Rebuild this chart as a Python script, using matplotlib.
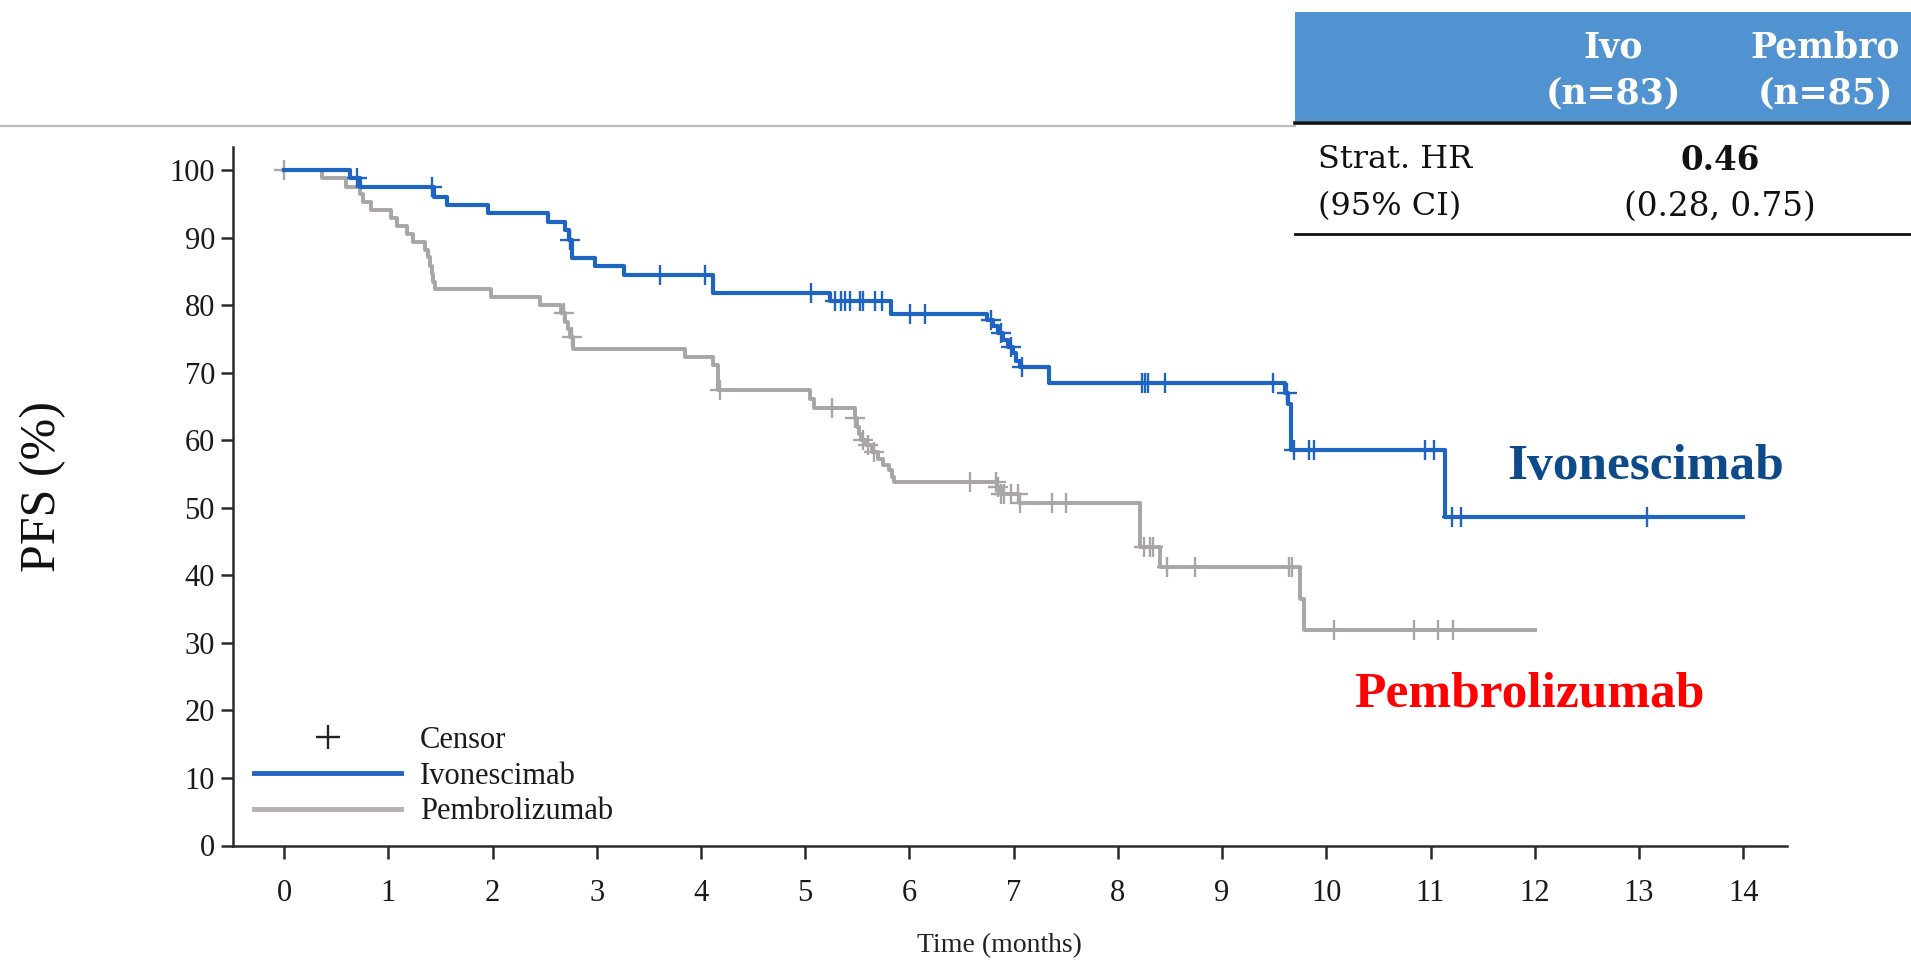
import numpy as np
import matplotlib
matplotlib.use('Agg')
import matplotlib.pyplot as plt
from matplotlib.lines import Line2D
from matplotlib.patches import Rectangle

# ---- data (time in months, PFS in %) ----
ivo_t = [0, 0.63, 0.73, 1.44, 1.56, 1.96, 2.53, 2.70, 2.73, 2.76, 2.98, 3.26,
         4.12, 5.24, 5.82, 6.74, 6.80, 6.85, 6.90, 6.95, 6.99, 7.02, 7.06,
         7.34, 9.60, 9.63, 9.66, 11.14, 14.0]
ivo_s = [100, 98.9, 97.5, 96.1, 94.9, 93.7, 92.4, 91.2, 89.7, 87.0, 85.8, 84.5,
         81.9, 80.7, 78.7, 77.8, 76.9, 75.9, 74.9, 73.9, 72.9, 71.7, 70.8,
         68.5, 67.0, 65.4, 58.6, 48.7, 48.7]
ivo_cens = [0.70, 1.42, 2.74, 3.61, 4.04, 5.06, 5.29, 5.34, 5.38, 5.43, 5.53,
            5.55, 5.67, 5.74, 6.01, 6.15, 6.78, 6.88, 6.97, 7.08, 8.23, 8.26,
            8.29, 8.45, 9.49, 9.62, 9.69, 9.83, 9.88, 10.95, 11.03, 11.21,
            11.29, 13.08]

pem_t = [0, 0.36, 0.59, 0.73, 0.76, 0.83, 1.03, 1.08, 1.18, 1.24, 1.35, 1.38,
         1.40, 1.42, 1.43, 1.45, 1.99, 2.46, 2.66, 2.70, 2.72, 2.74, 2.77,
         3.85, 4.12, 4.16, 5.05, 5.08, 5.48, 5.50, 5.52, 5.54, 5.58, 5.64,
         5.70, 5.75, 5.80, 5.83, 5.85, 6.84, 6.88, 7.05, 8.21, 8.40, 9.75,
         9.79, 12.0]
pem_s = [100, 98.8, 97.6, 96.5, 95.3, 94.1, 92.9, 91.8, 90.6, 89.4, 88.2, 87.1,
         85.9, 84.7, 83.5, 82.4, 81.2, 80.0, 78.8, 77.6, 76.5, 75.3, 73.5,
         72.3, 71.2, 67.5, 66.2, 64.8, 63.3, 62.0, 61.0, 60.0, 59.3, 58.3,
         57.3, 56.3, 55.6, 54.6, 53.9, 53.1, 52.1, 50.7, 44.2, 41.2, 36.5,
         31.9, 31.9]
pem_cens = [0.0, 2.69, 2.76, 4.18, 5.26, 5.48, 5.55, 5.60, 5.66, 6.58, 6.83,
            6.85, 6.88, 6.91, 6.97, 7.04, 7.06, 7.37, 7.50, 8.25, 8.31, 8.34,
            8.47, 8.74, 9.64, 9.67, 10.07, 10.84, 11.07, 11.22]

x_ticks = list(range(0, 15))
y_ticks = list(range(0, 101, 10))

ivo_col = '#1f64c0'
pem_col = '#aaa5a5'

W, H = 1911, 961
fig = plt.figure(figsize=(W / 100, H / 100), dpi=100)
ax = fig.add_axes([233 / W, 1 - 845.5 / H, (1787 - 233) / W, (845.5 - 146.7) / H])

serif = 'Liberation Serif'


def step_val(t, s, ct):
    idx = np.searchsorted(np.asarray(t), np.asarray(ct), side='right') - 1
    return np.asarray(s)[idx]


ax.step(ivo_t, ivo_s, where='post', color=ivo_col, lw=3.0, zorder=3)
ax.plot(ivo_cens, step_val(ivo_t, ivo_s, ivo_cens), ls='none', marker='+',
        ms=14, mew=1.7, color=ivo_col, zorder=3)
ax.step(pem_t, pem_s, where='post', color=pem_col, lw=2.8, zorder=2)
ax.plot(pem_cens, step_val(pem_t, pem_s, pem_cens), ls='none', marker='+',
        ms=14, mew=1.7, color=pem_col, zorder=2)

ax.set_xlim(-0.49, 14.42)
ax.set_ylim(0, 103.5)
ax.set_xticks(x_ticks)
ax.set_yticks(y_ticks)
for s in ['top', 'right']:
    ax.spines[s].set_visible(False)
for s in ['left', 'bottom']:
    ax.spines[s].set_linewidth(1.8)
    ax.spines[s].set_color('#2a2a2a')
ax.tick_params(axis='both', length=9, width=1.8, color='#2a2a2a',
               labelsize=22, labelcolor='#1a1a1a')
ax.tick_params(axis='x', pad=15)
ax.tick_params(axis='y', pad=4)
for lab in ax.get_xticklabels() + ax.get_yticklabels():
    lab.set_fontfamily(serif)

fig.text(43 / W, 1 - 487 / H, 'PFS (%)', fontsize=36, fontfamily=serif,
         color='#111111', rotation=90, ha='center', va='center')
ax.set_xlabel('Time (months)', fontsize=20, fontfamily=serif, color='#222222',
              va='center')
ax.xaxis.set_label_coords(0.4929, -0.1438)

# legend
handles = [Line2D([], [], ls='none', marker='+', ms=17, mew=1.7, color='#222222'),
           Line2D([], [], color='#2465c0', lw=3.5),
           Line2D([], [], color='#b9b0b0', lw=3.5)]
leg = ax.legend(handles, ['Censor', 'Ivonescimab', 'Pembrolizumab'],
                loc='lower left', bbox_to_anchor=(-0.004, -0.012), frameon=False,
                handlelength=4.8, handletextpad=0.62, labelspacing=0.22,
                prop={'family': serif, 'size': 22})
for t in leg.get_texts():
    t.set_color('#1a1a1a')

# curve labels
ax.text(13.06, 56.0, 'Ivonescimab', color='#0d4a8a', fontsize=37,
        fontweight='bold', fontfamily=serif, ha='center', va='center')
ax.text(11.95, 22.4, 'Pembrolizumab', color='#ff0000', fontsize=37,
        fontweight='bold', fontfamily=serif, ha='center', va='center')

# header rule and HR table
fig.add_artist(Line2D([0, 1295 / W], [1 - 125.5 / H] * 2, color='#bdbdbd', lw=1.6))
fig.add_artist(Rectangle((1295 / W, 1 - 121 / H), (W - 1295) / W, (121 - 11.5) / H,
                         transform=fig.transFigure, color='#5093d0', lw=0))
fig.add_artist(Line2D([1295 / W, 1], [1 - 122.5 / H] * 2, color='#111111', lw=2.6))
fig.add_artist(Line2D([1295 / W, 1], [1 - 234 / H] * 2, color='#111111', lw=2.0))

tserif = 'DejaVu Serif'
hdr = dict(color='white', fontsize=25, fontweight='bold', fontfamily=tserif,
           ha='center', va='center')
fig.text(1613 / W, 1 - 47 / H, 'Ivo', **hdr)
fig.text(1613 / W, 1 - 93 / H, '(n=83)', **hdr)
fig.text(1825 / W, 1 - 47 / H, 'Pembro', **hdr)
fig.text(1825 / W, 1 - 93 / H, '(n=85)', **hdr)
fig.text(1318 / W, 1 - 160 / H, 'Strat. HR', fontsize=23, fontfamily=tserif,
         ha='left', va='center', color='#111111')
fig.text(1318 / W, 1 - 207 / H, '(95% CI)', fontsize=23, fontfamily=tserif,
         ha='left', va='center', color='#111111')
fig.text(1720 / W, 1 - 160 / H, '0.46', fontsize=23.5, fontweight='bold',
         fontfamily=tserif, ha='center', va='center', color='#111111')
fig.text(1720 / W, 1 - 207 / H, '(0.28, 0.75)', fontsize=23.5, fontfamily=tserif,
         ha='center', va='center', color='#111111')

fig.savefig('out.png', dpi=100)
